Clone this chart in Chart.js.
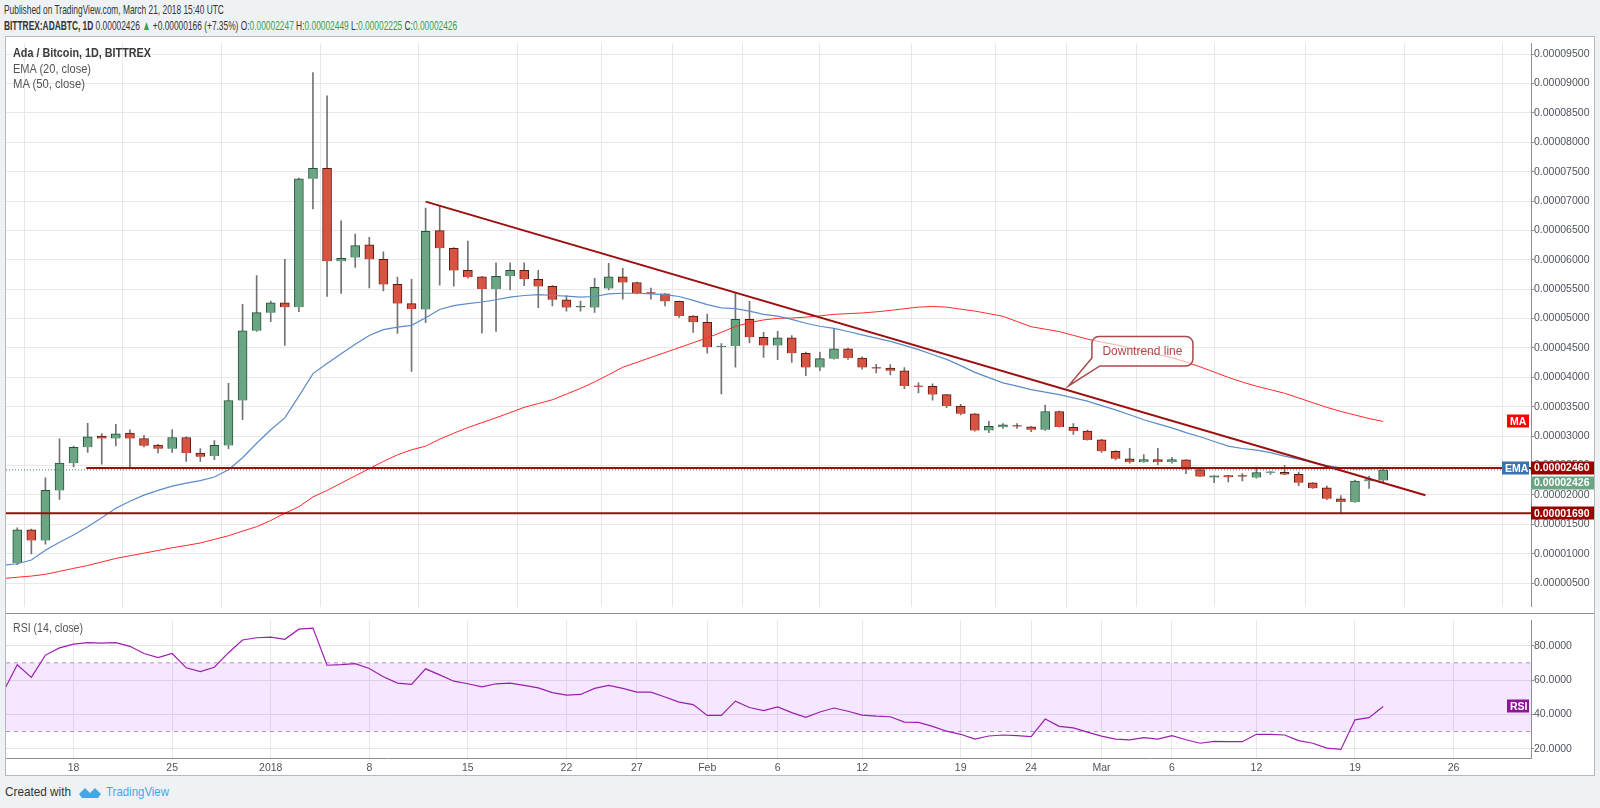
<!DOCTYPE html>
<html>
<head>
<meta charset="utf-8">
<script src="https://cdn.jsdelivr.net/npm/chart.js@4.4.1/dist/chart.umd.min.js"></script>
<style>
  html, body { margin: 0; padding: 0; }
  body { width: 1600px; height: 808px; background: #eff2f5; position: relative; overflow: hidden;
         font-family: "Liberation Sans", Arial, sans-serif; }
  .fit { position: absolute; white-space: nowrap; transform-origin: 0 50%; line-height: 1; z-index: 3; }
  .g { color: #37a04c; }
  #frame { position: absolute; left: 5px; top: 36px; width: 1588px; height: 738px; border: 1px solid #b5b8bd; background: #fff; }
  #main { position: absolute; left: 0; top: 0; }
  #sep { position: absolute; left: 0; top: 576px; width: 1588px; height: 1px; background: #8c8f94; }
  #rsi { position: absolute; left: 0; top: 577px; }
</style>
</head>
<body>
<div class="fit" data-w="220" style="left:4px;top:3px;font-size:13.5px;color:#333">Published on TradingView.com, March 21, 2018 15:40 UTC</div>
<div class="fit" data-w="453" style="left:4px;top:19px;font-size:13.5px;color:#333"><b>BITTREX:ADABTC, 1D</b> 0.00002426 <span class="g">▲</span> +0.00000166 (+7.35%) O:<span class="g">0.00002247</span> H:<span class="g">0.00002449</span> L:<span class="g">0.00002225</span> C:<span class="g">0.00002426</span></div>

<div id="frame">
  <canvas id="main" width="1588" height="576" style="width:1588px;height:576px"></canvas>
  <div id="sep"></div>
  <canvas id="rsi" width="1588" height="161" style="width:1588px;height:161px"></canvas>
</div>

<div class="fit" data-w="138" style="left:13px;top:47px;font-size:12.5px;color:#3a3a3a;font-weight:bold">Ada / Bitcoin, 1D, BITTREX</div>
<div class="fit" data-w="78" style="left:13px;top:63px;font-size:12.5px;color:#555">EMA (20, close)</div>
<div class="fit" data-w="72" style="left:13px;top:78px;font-size:12.5px;color:#555">MA (50, close)</div>
<div class="fit" data-w="70" style="left:13px;top:622px;font-size:12.5px;color:#555">RSI (14, close)</div>

<div class="fit" data-w="66" style="left:5px;top:785px;font-size:13.5px;color:#333">Created with</div>
<svg style="position:absolute;left:79px;top:785px" width="22" height="14" viewBox="0 0 22 14">
  <path d="M0 9 L6 3 L11 8 L16 3 L22 9 L19 13 L3 13 Z" fill="#45a7e6"/>
</svg>
<div class="fit" data-w="63" style="left:106px;top:785px;font-size:13.5px;color:#45a7e6">TradingView</div>

<script>
// daily candles, Dec 13 2017 .. Mar 21 2018, prices in satoshi (1e-8 BTC)
const FIRST_DAY = -1;   // day index of the first entry (Dec 14 = 0)

const open = [null,
  843,1405,1226,2077,2540,2811,3003,2960,3052,2960,
  2849,2787,2978,2713,2663,2842,3607,4792,5101,5267,
  5193,7377,7556,5977,6038,6254,6008,5582,5255,5154,
  6496,6197,5820,5709,5503,5720,5820,5670,5548,5320,
  5192,5187,5514,5709,5614,5431,5420,5293,5043,4938,
  4516,4533,4988,4683,4544,4672,4407,4168,4318,4484,
  4329,4168,4157,4113,3852,3846,3707,3513,3380,3097,
  3152,3175,3158,3108,3419,3152,3086,2936,2742,2614,
  2559,2603,2559,2597,2431,2298,2329,2318,2296,2379,
  2385,2351,2207,2123,1935,1879,2235,2247];
const high = [null,
  1442,1420,2293,2953,2830,3219,3046,3200,3108,3015,
  2861,3114,2990,2787,2923,3897,5242,5730,5298,6008,
  7390,9185,8790,6662,6439,6384,6137,5705,5668,6879,
  6918,6210,6319,5720,5947,5947,5947,5820,5560,5392,
  5298,5687,5942,5853,5620,5520,5425,5300,5050,5076,
  4577,5437,5293,4766,4783,4710,4430,4429,4834,4500,
  4351,4224,4218,4168,3907,3890,3712,3541,3385,3252,
  3213,3213,3165,3530,3425,3213,3103,2947,2753,2792,
  2686,2792,2642,2600,2435,2329,2335,2362,2473,2396,
  2501,2390,2210,2151,1990,2251,2318,2449];
const low = [null,
  812,998,1164,1923,2478,2725,2522,2836,2460,2818,
  2713,2725,2571,2571,2602,2787,3280,4780,4946,4545,
  5119,6865,5378,5428,5872,5520,5471,4749,4101,4932,
  5570,5553,5687,4755,4783,5487,5559,5187,5215,5126,
  5126,5104,5487,5332,5420,5332,5215,5021,4766,4411,
  3718,4172,4588,4339,4300,4256,4029,4113,4310,4307,
  4140,4074,4040,3807,3735,3613,3485,3363,3086,3058,
  3130,3130,3075,3097,3152,3030,2930,2725,2597,2542,
  2553,2514,2542,2364,2309,2207,2223,2240,2285,2351,
  2345,2157,2110,1918,1690,1875,2113,2225];
const close = [null,
  1405,1226,2077,2540,2811,2990,2960,3040,2960,2836,
  2787,2978,2713,2651,2842,3607,4792,5101,5267,5193,
  7377,7556,5977,6026,6242,6008,5582,5255,5162,6485,
  6197,5820,5709,5503,5720,5820,5670,5548,5320,5187,
  5206,5531,5709,5614,5431,5425,5293,5043,4938,4516,
  4530,4988,4683,4544,4672,4411,4168,4318,4484,4329,
  4168,4152,4113,3852,3840,3707,3513,3380,3097,3169,
  3191,3165,3108,3419,3155,3086,2936,2742,2614,2559,
  2603,2559,2603,2431,2312,2325,2307,2312,2379,2385,
  2352,2207,2115,1935,1879,2235,2260,2426];

const ema20 = [805,
  830,893,1059,1195,1318,1460,1614,1775,1892,1997,
  2077,2151,2201,2244,2306,2429,2633,2879,3108,3311,
  3681,4064,4237,4403,4564,4712,4811,4854,4885,5015,
  5154,5221,5254,5282,5320,5365,5393,5409,5393,5381,
  5365,5376,5420,5431,5431,5420,5409,5376,5309,5237,
  5182,5171,5126,5071,5043,4988,4921,4870,4834,4780,
  4723,4668,4612,4545,4473,4390,4307,4200,4085,3995,
  3907,3850,3791,3750,3707,3650,3596,3520,3447,3365,
  3280,3210,3141,3060,2990,2910,2830,2790,2762,2720,
  2660,2610,2550,2500,2460,2445,2445,2455];
const ma50 = [578,
  600,620,650,700,751,800,860,920,965,1010,
  1055,1102,1140,1183,1245,1306,1385,1460,1565,1689,
  1800,1966,2077,2201,2324,2447,2571,2682,2768,2830,
  2950,3050,3146,3230,3313,3400,3490,3555,3618,3715,
  3812,3923,4045,4172,4255,4339,4422,4505,4590,4671,
  4766,4866,4932,4977,5004,5010,5025,5045,5073,5085,
  5095,5115,5139,5168,5195,5206,5195,5160,5128,5084,
  5039,4950,4862,4820,4779,4715,4651,4600,4557,4500,
  4446,4390,4335,4260,4180,4090,4000,3920,3850,3790,
  3730,3650,3570,3490,3420,3360,3300,3250];
const rsi14 = [53,
  68.9,61.5,74.5,78.7,80.9,81.8,81.5,81.8,79.6,75.4,
  73.0,75.4,67.1,64.9,67.4,75.9,83.3,84.6,85.0,83.7,
  89.6,90.2,68.6,68.9,69.5,66.7,61.9,58.2,57.5,66.5,
  63.0,59.3,57.8,56.0,57.8,58.2,56.9,55.4,52.7,51.2,
  51.6,55.1,56.9,55.1,52.9,52.9,50.1,47.1,45.7,39.4,
  39.4,47.7,44.0,42.2,44.3,41.0,38.3,41.4,43.7,41.8,
  39.6,39.0,38.6,35.5,35.3,33.0,30.2,28.4,25.6,27.4,
  28.0,27.6,27.1,37.3,33.0,32.1,29.7,27.3,25.6,25.2,
  26.5,25.6,27.6,25.2,23.2,24.3,24.1,24.1,28.4,28.4,
  28.0,24.7,23.2,20.4,19.6,36.8,38.1,44.6];

const tickDays = [4, 11, 18, 25, 32, 39, 44, 49, 54, 60, 67, 72, 77, 82, 88, 95, 102];
const tickLabels = ['18','25','2018','8','15','22','27','Feb','6','12','19','24','Mar','6','12','19','26'];
const priceTicks = [500,1000,1500,2000,2500,3000,3500,4000,4500,5000,5500,6000,6500,7000,7500,8000,8500,9000,9500];
const rsiTicks = [20, 40, 60, 80];
const rsiBand = [30, 70];

// drawings
const resistance = 2460, resistanceFrom = 4.9;
const support = 1690;
const lastClose = 2426;
const trendFrom = [29, 6990], trendTo = [100, 1996];
const callout = { day: 74.65, value: 3854, text: 'Downtrend line' };

const X_MIN = -0.8, X_MAX = 107.5;
const GREEN = '#6ba583', RED = '#d75442';

Chart.defaults.font.family = '"Liberation Sans", Arial, sans-serif';
const axisFont = { size: 10.5 };
const axisColor = '#50535e';

const dayOf = i => i + FIRST_DAY;
const wicks = [], bodies = [], fills = [], edges = [];
open.forEach((o, i) => {
  if (o === null) return;
  const c = close[i], lo = Math.min(o, c);
  wicks.push({ x: dayOf(i), y: [low[i], high[i]] });
  bodies.push({ x: dayOf(i), y: [lo, Math.max(o, c, lo + 16)] });
  fills.push(c >= o ? GREEN : RED);
  edges.push(c >= o ? '#225437' : '#5b1a13');
});
const line = (arr) => arr.map((v, i) => ({ x: dayOf(i), y: v }));

function tag(ctx, text, y, bg, x0, x1) {
  ctx.fillStyle = bg;
  ctx.fillRect(x0, Math.round(y) - 6.5, x1 - x0, 13);
  ctx.fillStyle = '#fff';
  ctx.font = 'bold 10.5px "Liberation Sans", Arial';
  ctx.textBaseline = 'middle';
  ctx.textAlign = 'left';
  ctx.fillText(text, x0 + 3, y + 0.5);
}

const mainTags = {
  id: 'mainTags',
  afterDraw(chart) {
    const { ctx, chartArea: a, scales: { y } } = chart;
    const W = chart.width;
    ctx.save();
    const yr = y.getPixelForValue(resistance);
    tag(ctx, '0.00002460', yr, '#990000', a.right, W);
    tag(ctx, '0.00002426', yr + 15, GREEN, a.right, W);
    tag(ctx, '0.00001690', y.getPixelForValue(support), '#990000', a.right, W);
    tag(ctx, 'EMA', y.getPixelForValue(ema20[ema20.length - 1]), '#3a73ae', a.right - 29, a.right - 2);
    tag(ctx, 'MA', y.getPixelForValue(ma50[ma50.length - 1]), '#ff0000', a.right - 24, a.right - 2);
    ctx.restore();
  }
};

const calloutPlugin = {
  id: 'callout',
  afterDatasetsDraw(chart) {
    const { ctx, scales: { x, y } } = chart;
    const tx = x.getPixelForValue(callout.day), ty = y.getPixelForValue(callout.value);
    const L = tx + 23.5, T = ty - 49.5, W = 101, H = 29.5, r = 7;
    ctx.save();
    ctx.beginPath();
    ctx.moveTo(L + r, T);
    ctx.lineTo(L + W - r, T);
    ctx.arcTo(L + W, T, L + W, T + r, r);
    ctx.lineTo(L + W, T + H - r);
    ctx.arcTo(L + W, T + H, L + W - r, T + H, r);
    ctx.lineTo(L + 8, T + H);
    ctx.lineTo(tx, ty);
    ctx.lineTo(L, T + H - 8);
    ctx.lineTo(L, T + r);
    ctx.arcTo(L, T, L + r, T, r);
    ctx.closePath();
    ctx.fillStyle = 'rgba(255,255,255,0.6)';
    ctx.fill();
    ctx.strokeStyle = '#a94a4a';
    ctx.lineWidth = 1.5;
    ctx.stroke();
    ctx.fillStyle = '#b34747';
    ctx.font = '12px "Liberation Sans", Arial';
    ctx.textAlign = 'center';
    ctx.textBaseline = 'middle';
    ctx.fillText(callout.text, L + W / 2, T + H / 2 + 0.5);
    ctx.restore();
  }
};

const flat = (y, from, to) => [{ x: from, y: y }, { x: to, y: y }];

new Chart(document.getElementById('main'), {
  type: 'bar',
  data: {
    datasets: [
      { type: 'line', data: [{ x: trendFrom[0], y: trendFrom[1] }, { x: trendTo[0], y: trendTo[1] }],
        borderColor: '#9c0f0f', borderWidth: 2, pointRadius: 0, order: 0 },
      { type: 'line', data: flat(resistance, resistanceFrom, X_MAX), borderColor: '#9a0e0e', borderWidth: 2, pointRadius: 0, order: 0 },
      { type: 'line', data: flat(support, X_MIN, X_MAX), borderColor: '#9a0e0e', borderWidth: 2, pointRadius: 0, order: 0 },
      { type: 'line', data: flat(lastClose, X_MIN, X_MAX), borderColor: '#3f7f55', borderWidth: 1, borderDash: [1, 2], pointRadius: 0, order: 1 },
      { type: 'line', data: line(ema20), borderColor: '#5b8cc8', borderWidth: 1.2, pointRadius: 0, order: 1 },
      { type: 'line', data: line(ma50), borderColor: '#ff2a2a', borderWidth: 1, pointRadius: 0, order: 1 },
      { data: bodies, backgroundColor: fills, borderColor: edges, borderWidth: 1, barThickness: 9, grouped: false, order: 2 },
      { data: wicks, backgroundColor: '#737375', barThickness: 1, grouped: false, order: 3 }
    ]
  },
  options: {
    responsive: false, animation: false, devicePixelRatio: 1, events: [],
    layout: { padding: 0 },
    plugins: { legend: { display: false }, tooltip: { enabled: false } },
    scales: {
      x: {
        type: 'linear', min: X_MIN, max: X_MAX, offset: false,
        grid: { color: '#e8e8e8', drawTicks: false },
        border: { display: false },
        ticks: { display: false },
        afterBuildTicks: s => { s.ticks = tickDays.map(v => ({ value: v })); },
        afterFit: s => { s.height = 0; }
      },
      y: {
        position: 'right', min: 99, max: 9683,
        grid: { color: '#e8e8e8', tickLength: 3, tickColor: '#8c8f94' },
        border: { display: true, color: '#8c8f94' },
        ticks: { font: axisFont, color: axisColor, padding: 0, callback: v => (v / 1e8).toFixed(8) },
        afterBuildTicks: s => { s.ticks = priceTicks.map(v => ({ value: v })); },
        afterFit: s => { s.width = 63; }
      }
    }
  },
  plugins: [calloutPlugin, mainTags]
});

const rsiTag = {
  id: 'rsiTag',
  afterDraw(chart) {
    const { ctx, chartArea: a, scales: { y } } = chart;
    ctx.save();
    tag(ctx, 'RSI', y.getPixelForValue(rsi14[rsi14.length - 1]), '#8e1599', a.right - 24, a.right - 2);
    ctx.restore();
  }
};

new Chart(document.getElementById('rsi'), {
  type: 'line',
  data: {
    datasets: [
      { data: line(rsi14), borderColor: '#9b1fae', borderWidth: 1.2, pointRadius: 0, order: 0 },
      { data: flat(rsiBand[1], X_MIN, X_MAX), borderColor: 'rgba(125,105,135,0.65)', borderDash: [4, 4], borderWidth: 1,
        pointRadius: 0, fill: '+1', backgroundColor: 'rgba(153,21,255,0.1)', order: 1 },
      { data: flat(rsiBand[0], X_MIN, X_MAX), borderColor: 'rgba(125,105,135,0.65)', borderDash: [4, 4], borderWidth: 1,
        pointRadius: 0, fill: false, order: 1 }
    ]
  },
  options: {
    responsive: false, animation: false, devicePixelRatio: 1, events: [],
    layout: { padding: 0 },
    plugins: { legend: { display: false }, tooltip: { enabled: false } },
    scales: {
      x: {
        type: 'linear', min: X_MIN, max: X_MAX, offset: false,
        grid: { color: '#e8e8e8', drawTicks: false },
        border: { display: true, color: '#8c8f94' },
        ticks: { font: axisFont, color: axisColor, padding: 4, autoSkip: false, maxRotation: 0,
                 callback: v => tickLabels[tickDays.indexOf(v)] },
        afterBuildTicks: s => { s.ticks = tickDays.map(v => ({ value: v })); },
        afterFit: s => { s.height = 17; }
      },
      y: {
        position: 'right', min: 14.6, max: 94.75,
        grid: { color: '#e4e4e4', tickLength: 3, tickColor: '#8c8f94' },
        border: { display: true, color: '#8c8f94' },
        ticks: { font: axisFont, color: axisColor, padding: 0, callback: v => v.toFixed(4) },
        afterBuildTicks: s => { s.ticks = rsiTicks.map(v => ({ value: v })); },
        afterFit: s => { s.width = 63; }
      }
    }
  },
  plugins: [rsiTag]
});

// squeeze the narrow TradingView captions to their measured widths
document.querySelectorAll('.fit').forEach(el => {
  const w = el.getBoundingClientRect().width;
  el.style.transform = 'scaleX(' + (el.dataset.w / w).toFixed(3) + ')';
});
</script>
</body>
</html>
